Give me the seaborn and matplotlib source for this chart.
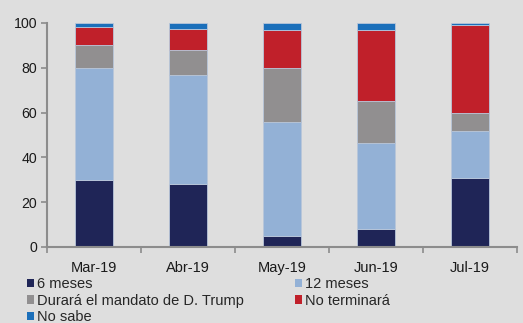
import matplotlib
matplotlib.use("Agg")
import matplotlib.pyplot as plt
from matplotlib.patches import Patch
from matplotlib.ticker import FixedLocator
import numpy as np
import seaborn as sns

months = ["Mar-19", "Abr-19", "May-19", "Jun-19", "Jul-19"]
seis_meses = [30, 28, 5, 8, 31]
doce_meses = [50, 49, 51, 38.5, 21]
mandato_trump = [10, 11, 24, 18.5, 8]
no_terminara = [8, 9.5, 17, 32, 39]
no_sabe = [2, 2.5, 3, 3, 1]

series_names = ["6 meses", "12 meses", "Durará el mandato de D. Trump",
                "No terminará", "No sabe"]
series_values = [seis_meses, doce_meses, mandato_trump, no_terminara, no_sabe]
colors = ["#1F2557", "#93B1D6", "#918F90", "#C0202A", "#1B6FBA"]

sns.set_theme(style="white")
bg = "#DEDEDE"
plt.rcParams["font.family"] = ["Liberation Sans", "DejaVu Sans"]

fig = plt.figure(figsize=(5.23, 3.23), dpi=100, facecolor=bg)
ax = fig.add_axes([0.0899, 0.2353, 0.8986, 0.6935])
ax.set_facecolor(bg)

bottom = np.zeros(len(months))
for name, vals, col in zip(series_names, series_values, colors):
    sns.barplot(x=months, y=vals, bottom=bottom, color=col, width=0.4,
                edgecolor="#B8C6DA", linewidth=0.6, saturation=1, ax=ax)
    bottom = bottom + np.array(vals)

ax.set_xlim(-0.5, 4.5)
ax.set_ylim(0, 100)
ax.set_yticks([0, 20, 40, 60, 80, 100])

spine_col = "#8C8C8C"
for s in ["top", "right"]:
    ax.spines[s].set_visible(False)
for s in ["left", "bottom"]:
    ax.spines[s].set_color(spine_col)
    ax.spines[s].set_linewidth(1.5)

ax.xaxis.set_minor_locator(FixedLocator(np.arange(-0.5, 4.6, 1)))
ax.tick_params(axis="x", which="major", length=0, pad=10, labelsize=10.5,
               labelcolor="#1a1a1a")
ax.tick_params(axis="x", which="minor", bottom=True, length=4, width=1.2,
               color=spine_col, direction="out")
ax.tick_params(axis="y", left=True, length=4, width=1.2, color=spine_col,
               labelsize=10.2, labelcolor="#1a1a1a", pad=3)
ax.set_xlabel("")
ax.set_ylabel("")

handles = [Patch(facecolor=c, edgecolor="none") for c in colors]
order = [0, 2, 4, 1, 3]
fig.legend([handles[i] for i in order], [series_names[i] for i in order],
           loc="upper left", bbox_to_anchor=(0.052, 0.142), ncol=2,
           frameon=False, fontsize=10.5, handlelength=0.5, handleheight=0.5,
           handletextpad=0.2, columnspacing=3.47, labelspacing=0.17,
           borderaxespad=0, borderpad=0)

fig.savefig("out.png", dpi=100, facecolor=bg)
